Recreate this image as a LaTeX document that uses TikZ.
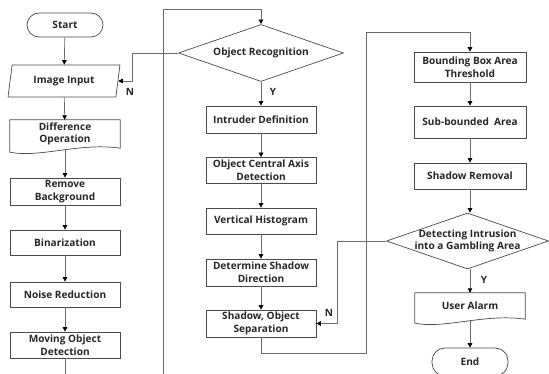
\documentclass[tikz,border=0pt]{standalone}
\usepackage{fontspec}
\setmainfont{Open Sans}
\usetikzlibrary{shapes.geometric,arrows.meta}
\definecolor{linec}{HTML}{6A6A6A}
\definecolor{boxc}{HTML}{4A4A4A}
\tikzset{
  base/.style={font=\bfseries\fontsize{10.1}{12.6}\selectfont, align=center, inner sep=1pt, text=black!85},
  box/.style={base, draw=boxc, line width=0.7pt, rectangle, minimum width=110pt},
  docbox/.style={base, rectangle, minimum width=110pt},
  term/.style={base, draw=boxc, line width=0.7pt, rounded corners=12pt, minimum width=76pt},
  dec/.style={draw=boxc, line width=0.7pt, diamond, inner sep=0pt},
  io/.style={base, draw=boxc, line width=0.7pt, trapezium, trapezium left angle=78,
    trapezium right angle=102, trapezium stretches=true, minimum width=112pt, minimum height=32pt},
  flow/.style={draw=linec, line width=0.7pt, -{Triangle[length=4.5pt,width=4.5pt,color=black]}},
  plain/.style={draw=linec, line width=0.7pt},
  lbl/.style={font=\bfseries\fontsize{10}{12}\selectfont, text=black!85, inner sep=0pt},
  docdraw/.style={draw=boxc, line width=0.7pt}
}
\begin{document}
\begin{tikzpicture}[x=1pt,y=-1pt]
\useasboundingbox (0,0) rectangle (549,374);
\clip (0,0) rectangle (549,374);

% column 1
\node[term, minimum height=24pt] (start) at (65,25) {Start};
\node[io] (input) at (64,81) {Image Input};
\node[docbox, minimum height=28pt] (diff) at (65,134) {Difference\\Operation};
\draw[docdraw] (diff.north west) -- (diff.north east) -- (diff.south east)
  .. controls ([xshift=-40pt,yshift=6pt]diff.south east) and ([xshift=30pt,yshift=-10pt]diff.south west)
  .. ([yshift=-4pt]diff.south west) -- cycle;
\node[box, minimum height=27pt] (rb) at (65,191.5) {Remove\\Background};
\node[box, minimum height=25pt] (bin) at (65,242.5) {Binarization};
\node[box, minimum height=25pt] (nr) at (65,294.5) {Noise Reduction};
\node[box, minimum height=26pt] (mod) at (65,345) {Moving Object\\Detection};
\coordinate (c1end) at (65,380);

% column 2
\node[dec, minimum width=165pt, minimum height=57pt] (objrec) at (261,53) {};
\node[base] (objrect) at (objrec.center) {Object Recognition};
\node[box, minimum height=27pt] (intr) at (261,119.5) {Intruder Definition};
\node[box, minimum height=26pt] (axis) at (261,170.5) {Object Central Axis\\Detection};
\node[box, minimum height=26pt] (vh) at (261,221) {Vertical Histogram};
\node[box, minimum height=27pt] (dsd) at (261,272.5) {Determine Shadow\\Direction};
\node[box, minimum height=27pt] (sos) at (261,323.5) {Shadow, Object\\Separation};
\coordinate (c2b) at (163,380);
\coordinate (c2t) at (163,9);
\coordinate (n1) at (132,53);
\coordinate (l2a) at (366,353);
\coordinate (l2b) at (366,32);

% column 3
\node[box, minimum width=112pt, minimum height=30pt] (bb) at (470,67) {Bounding Box Area\\Threshold};
\node[box, minimum width=112pt, minimum height=32pt] (sub) at (470,122) {Sub-bounded~ Area};
\node[box, minimum width=112pt, minimum height=26pt] (sr) at (470,176) {Shadow Removal};
\node[dec, minimum width=162pt, minimum height=56pt] (det) at (467.5,241) {};
\node[base] (dett) at (det.center) {Detecting Intrusion\\into a Gambling Area};
\node[docbox, minimum height=26pt] (ua) at (470,306) {User Alarm};
\draw[docdraw] (ua.north west) -- (ua.north east) -- (ua.south east)
  .. controls ([xshift=-40pt,yshift=6pt]ua.south east) and ([xshift=30pt,yshift=-10pt]ua.south west)
  .. ([yshift=-4pt]ua.south west) -- cycle;
\node[term, minimum height=28pt, rounded corners=13pt] (end) at (470,362) {End};
\coordinate (n2) at (337,241);

% labels
\node[lbl] (ln1) at (130,92) {N};
\node[lbl] (ly1) at (273,92) {Y};
\node[lbl] (ln2) at (329,313) {N};
\node[lbl] (ly2) at (484,280) {Y};

% connectors column 1
\draw[flow] (start) -- (input);
\draw[flow] (input) -- (diff);
\draw[flow] ([yshift=-1pt]diff.south) -- (rb);
\draw[flow] (rb) -- (bin);
\draw[flow] (bin) -- (nr);
\draw[flow] (nr) -- (mod);
\draw[plain] (mod) -- (c1end);

% connectors column 2
\draw[flow] (c2b) -- (c2t) -| (objrec.north);
\draw[flow] (objrec.west) -- (n1) |- (input.east);
\draw[flow] (objrec) -- (intr);
\draw[flow] (intr) -- (axis);
\draw[flow] (axis) -- (vh);
\draw[flow] (vh) -- (dsd);
\draw[flow] (dsd) -- (sos);
\draw[flow] (sos.south) |- (l2a) -- (l2b) -| (bb.north);

% connectors column 3
\draw[flow] (bb) -- (sub);
\draw[flow] (sub) -- (sr);
\draw[flow] (sr.south) -- (sr.south |- det.north);
\draw[flow] (det.west) -- (n2) |- (sos.east);
\draw[flow] (ua.north |- det.south) -- (ua.north);
\draw[flow] ([yshift=-1pt]ua.south) -- (end);
\end{tikzpicture}
\end{document}
